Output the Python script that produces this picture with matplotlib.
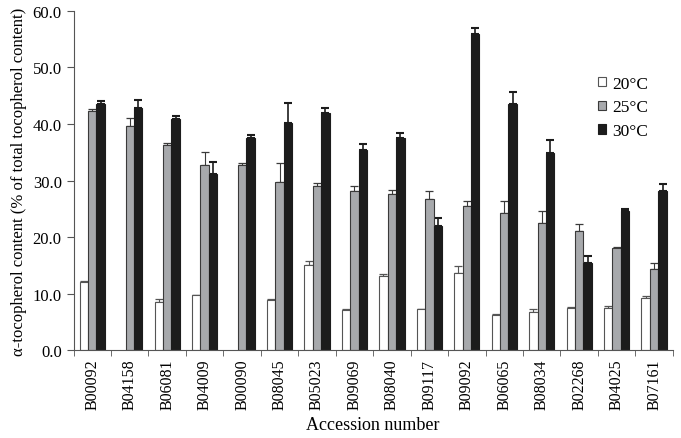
import numpy as np
import matplotlib.pyplot as plt

# accession numbers (x categories)
accessions = ['B00092', 'B04158', 'B06081', 'B04009', 'B00090', 'B08045',
              'B05023', 'B09069', 'B08040', 'B09117', 'B09092', 'B06065',
              'B08034', 'B02268', 'B04025', 'B07161']

# alpha-tocopherol content (% of total), nan = no bar
t20 = [12.1, np.nan, 8.6, 9.7, np.nan, 8.8, 15.0, 7.1, 13.2, 7.2, 13.7, 6.3, 6.8, 7.4, 7.4, 9.3]
t25 = [42.3, 39.7, 36.3, 32.8, 32.8, 29.7, 29.0, 28.2, 27.6, 26.8, 25.5, 24.3, 22.5, 21.1, 18.1, 14.4]
t30 = [43.6, 42.8, 40.9, 31.1, 37.6, 40.2, 42.0, 35.4, 37.5, 22.0, 55.9, 43.6, 34.9, 15.4, 24.7, 28.2]

# standard errors (only upper bars drawn)
e20 = [0.1, 0.0, 0.4, 0.1, 0.0, 0.3, 0.7, 0.1, 0.3, 0.1, 1.2, 0.1, 0.5, 0.2, 0.5, 0.3]
e25 = [0.3, 1.3, 0.4, 2.2, 0.3, 3.4, 0.6, 0.8, 0.7, 1.3, 0.8, 2.0, 2.1, 1.2, 0.1, 1.0]
e30 = [0.5, 1.5, 0.5, 2.2, 0.5, 3.5, 0.8, 1.0, 0.9, 1.4, 1.0, 2.1, 2.2, 1.3, 0.2, 1.2]

plt.rcParams['font.family'] = ['Liberation Serif', 'DejaVu Serif']

fig = plt.figure(figsize=(6.81, 4.39), dpi=100)
ax = fig.add_axes([0.108, 0.200, 0.880, 0.773])

x = np.arange(len(accessions))
w = 0.225
series = [(t20, e20, 'white', '#555555', '20°C'),
          (t25, e25, '#a7a9ac', '#3a3a3a', '25°C'),
          (t30, e30, '#1c1c1c', '#1c1c1c', '30°C')]

for i, (vals, errs, fc, ec, lab) in enumerate(series):
    vals = np.array(vals, dtype=float)
    errs = np.array(errs, dtype=float)
    pos = x + (i - 1) * w
    ax.bar(pos, vals, w, color=fc, edgecolor=ec, linewidth=0.8, label=lab, zorder=2)
    ok = ~np.isnan(vals)
    ax.errorbar(pos[ok], vals[ok], yerr=[np.zeros(ok.sum()), errs[ok]],
                fmt='none', ecolor=ec, elinewidth=1.2 if i == 2 else 0.8,
                capsize=3, capthick=1.5 if i == 2 else 0.9, zorder=1)

ax.set_xlim(-0.5, len(accessions) - 0.5)
ax.set_ylim(0, 60)
ax.set_yticks(np.arange(0, 61, 10))
ax.set_yticklabels(['%.1f' % v for v in np.arange(0, 61, 10)], fontsize=12)

ax.set_xticks(x)
ax.set_xticklabels(accessions, rotation=90, fontsize=11.5)
ax.set_xticks(np.arange(len(accessions) + 1) - 0.5, minor=True)
ax.tick_params(axis='x', which='major', length=0, pad=6)
ax.tick_params(axis='x', which='minor', length=4, color='#555555')
ax.tick_params(axis='y', length=5, color='#555555')

for s in ['top', 'right']:
    ax.spines[s].set_visible(False)
for s in ['left', 'bottom']:
    ax.spines[s].set_color('#555555')

ax.set_xlabel('Accession number', fontsize=13, labelpad=5)
ax.set_ylabel('α-tocopherol content (% of total tocopherol content)', fontsize=12)

ax.legend(loc='upper right', bbox_to_anchor=(0.985, 0.855), frameon=False,
          fontsize=12.5, handlelength=0.45, handleheight=0.45, handletextpad=0.35,
          labelspacing=0.45)

plt.savefig('out.png', dpi=100)
